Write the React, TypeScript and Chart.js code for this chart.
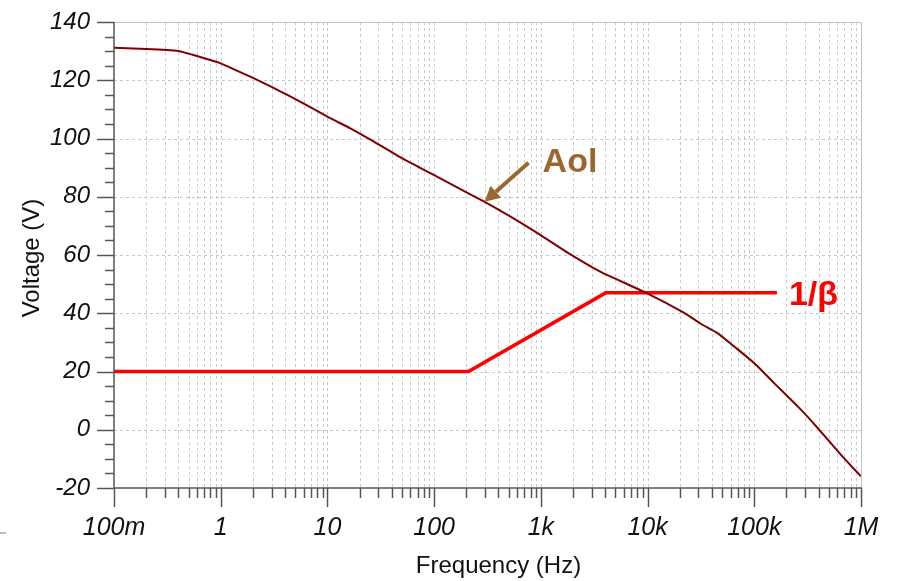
import React, { useEffect, useRef } from "react";
import { Chart, registerables } from "chart.js";

Chart.register(...registerables);

// ---- data ----
const aolFreq = [0.1, 0.175, 0.39, 0.641, 0.988, 1.317, 2.028, 2.71, 3.61, 4.81, 6.9, 10.6, 16.4, 25.3, 51.8, 92.3, 153, 292, 520, 860, 1781, 3633, 9200, 21840, 31530, 45230, 64760, 99720, 153700, 273500, 392500, 649300, 1000000];
const aolVal = [131.2, 130.8, 130.1, 128.0, 125.9, 123.8, 120.7, 118.5, 116.2, 113.9, 110.8, 107.0, 103.5, 99.6, 92.9, 88.1, 83.8, 78.4, 73.2, 68.3, 60.8, 54.2, 47.4, 40.2, 36.4, 33.2, 28.6, 22.9, 16.0, 6.9, 0.6, -8.6, -16.0];
const betaFreq = [0.1, 210, 4050, 163000];
const betaVal = [20, 20, 47, 47];

const xMin = 0.1;
const xMax = 1000000;
const yMin = -20;
const yMax = 140;
const yMajorStep = 20;
const yMinorStep = 5;
const xDecadeLabels: Record<string, string> = {
  "0.1": "100m", "1": "1", "10": "10", "100": "100", "1000": "1k", "10000": "10k", "100000": "100k", "1000000": "1M",
};
const xTitle = "Frequency (Hz)";
const yTitle = "Voltage (V)";
const aolLabel = "Aol";
const betaLabel = "1/β";
// annotation anchors in data units
const aolLabelPos = { x: 1038, y: 88.6 };
const aolArrowFrom = { x: 767, y: 91.7 };
const aolArrowTo = { x: 297, y: 78.3 };
const betaLabelPos = { x: 211000, y: 42.9 };

function logTicks(): number[] {
  const out: number[] = [];
  for (let e = -1; e <= 6; e++) {
    for (let m = 1; m <= 9; m++) {
      const v = parseFloat((m * Math.pow(10, e)).toPrecision(6));
      if (v >= xMin - 1e-9 && v <= xMax + 1e-9) out.push(v);
    }
  }
  return out;
}
function isDecade(v: number) {
  const l = Math.log10(v);
  return Math.abs(l - Math.round(l)) < 1e-6;
}

const FONT = "'Liberation Sans', Arial, sans-serif";

const decorPlugin = {
  id: "decor",
  beforeDatasetsDraw(chart: any) {
    const { ctx, chartArea: a, scales } = chart;
    const xs = scales.x, ys = scales.y;
    ctx.save();
    // grid
    ctx.strokeStyle = "#c9c9c9";
    ctx.lineWidth = 1;
    ctx.setLineDash([3, 3]);
    for (const v of logTicks()) {
      if (v <= xMin || v >= xMax) continue;
      const px = Math.round(xs.getPixelForValue(v)) + 0.5;
      ctx.beginPath();
      ctx.moveTo(px, a.top);
      ctx.lineTo(px, a.bottom);
      ctx.stroke();
    }
    for (let v = yMin + yMajorStep; v < yMax; v += yMajorStep) {
      const py = Math.round(ys.getPixelForValue(v)) + 0.5;
      ctx.beginPath();
      ctx.moveTo(a.left, py);
      ctx.lineTo(a.right, py);
      ctx.stroke();
    }
    ctx.setLineDash([]);
    // top & right frame
    ctx.strokeStyle = "#c4c4c4";
    ctx.beginPath();
    ctx.moveTo(a.left, a.top + 0.5);
    ctx.lineTo(a.right + 0.5, a.top + 0.5);
    ctx.lineTo(a.right + 0.5, a.bottom);
    ctx.stroke();
    ctx.restore();
  },
  afterDatasetsDraw(chart: any) {
    const { ctx, chartArea: a, scales } = chart;
    const xs = scales.x, ys = scales.y;
    ctx.save();
    // axes
    ctx.strokeStyle = "#555555";
    ctx.lineWidth = 1.5;
    ctx.beginPath();
    ctx.moveTo(a.left, a.top);
    ctx.lineTo(a.left, a.bottom);
    ctx.lineTo(a.right + 1, a.bottom);
    ctx.stroke();
    // y ticks
    for (let v = yMin; v <= yMax + 1e-9; v += yMinorStep) {
      const py = Math.round(ys.getPixelForValue(v)) + 0.5;
      const len = v % yMajorStep === 0 ? 17 : 9;
      ctx.beginPath();
      ctx.moveTo(a.left - len, py);
      ctx.lineTo(a.left, py);
      ctx.stroke();
    }
    // x ticks
    for (const v of logTicks()) {
      const px = Math.round(xs.getPixelForValue(v)) + 0.5;
      const len = isDecade(v) ? 19 : 10;
      ctx.beginPath();
      ctx.moveTo(px, a.bottom);
      ctx.lineTo(px, a.bottom + len);
      ctx.stroke();
    }
    // titles
    ctx.fillStyle = "#111111";
    ctx.font = `24px ${FONT}`;
    ctx.textAlign = "center";
    ctx.textBaseline = "alphabetic";
    ctx.fillText(xTitle, (a.left + a.right) / 2 + 11, 573);
    ctx.save();
    ctx.translate(39, (a.top + a.bottom) / 2 + 3);
    ctx.rotate(-Math.PI / 2);
    ctx.fillText(yTitle, 0, 0);
    ctx.restore();
    // Aol annotation
    const brown = "#9c6630";
    ctx.fillStyle = brown;
    ctx.font = `bold 34px ${FONT}`;
    ctx.textAlign = "left";
    ctx.fillText(aolLabel, xs.getPixelForValue(aolLabelPos.x), ys.getPixelForValue(aolLabelPos.y));
    const x1 = xs.getPixelForValue(aolArrowFrom.x), y1 = ys.getPixelForValue(aolArrowFrom.y);
    const x2 = xs.getPixelForValue(aolArrowTo.x), y2 = ys.getPixelForValue(aolArrowTo.y);
    const ang = Math.atan2(y2 - y1, x2 - x1);
    const headLen = 15, headW = 8;
    const bx = x2 - headLen * Math.cos(ang), by = y2 - headLen * Math.sin(ang);
    ctx.strokeStyle = brown;
    ctx.lineWidth = 4;
    ctx.beginPath();
    ctx.moveTo(x1, y1);
    ctx.lineTo(bx, by);
    ctx.stroke();
    ctx.beginPath();
    ctx.moveTo(x2, y2);
    ctx.lineTo(bx + headW * Math.sin(ang), by - headW * Math.cos(ang));
    ctx.lineTo(bx - headW * Math.sin(ang), by + headW * Math.cos(ang));
    ctx.closePath();
    ctx.fill();
    // 1/beta annotation
    ctx.fillStyle = "#ff0000";
    ctx.fillText(betaLabel, xs.getPixelForValue(betaLabelPos.x), ys.getPixelForValue(betaLabelPos.y));
    // small mark bottom-left
    ctx.strokeStyle = "#bbbbbb";
    ctx.lineWidth = 2;
    ctx.beginPath();
    ctx.moveTo(0, 533);
    ctx.lineTo(6, 533);
    ctx.stroke();
    ctx.restore();
  },
};

export default function App() {
  const ref = useRef<HTMLCanvasElement | null>(null);
  useEffect(() => {
    if (!ref.current) return;
    const chart = new Chart(ref.current, {
      type: "scatter",
      data: {
        datasets: [
          {
            label: "Aol",
            data: aolFreq.map((f, i) => ({ x: f, y: aolVal[i] })),
            showLine: true,
            borderColor: "#7f0000",
            borderWidth: 2,
            pointRadius: 0,
            tension: 0.15,
          },
          {
            label: "1/β",
            data: betaFreq.map((f, i) => ({ x: f, y: betaVal[i] })),
            showLine: true,
            borderColor: "#ff0000",
            borderWidth: 3.5,
            pointRadius: 0,
            tension: 0,
          },
        ],
      },
      options: {
        animation: false,
        responsive: false,
        maintainAspectRatio: false,
        layout: { padding: { top: 22, right: 45, left: 0, bottom: 0 } },
        plugins: { legend: { display: false }, tooltip: { enabled: false } },
        scales: {
          x: {
            type: "logarithmic",
            min: xMin,
            max: xMax,
            afterBuildTicks: (scale: any) => {
              scale.ticks = logTicks().map((v) => ({ value: v }));
            },
            afterFit: (scale: any) => {
              scale.height = 93;
              scale.paddingLeft = 0;
              scale.paddingRight = 0;
            },
            grid: { display: false, drawTicks: false, tickLength: 0 },
            border: { display: false },
            ticks: {
              autoSkip: false,
              maxRotation: 0,
              minRotation: 0,
              padding: 25,
              color: "#111111",
              font: { family: FONT, size: 25, style: "italic" },
              callback: (v: any) => {
                const key = String(parseFloat(Number(v).toPrecision(6)));
                return isDecade(Number(v)) ? xDecadeLabels[key] ?? "" : "";
              },
            },
          },
          y: {
            type: "linear",
            min: yMin,
            max: yMax,
            afterFit: (scale: any) => {
              scale.width = 114;
              scale.paddingTop = 0;
              scale.paddingBottom = 0;
            },
            grid: { display: false, drawTicks: false, tickLength: 0 },
            border: { display: false },
            ticks: {
              stepSize: yMinorStep,
              autoSkip: false,
              padding: 24,
              color: "#111111",
              font: { family: FONT, size: 24, style: "italic" },
              callback: (v: any) => (Number(v) % yMajorStep === 0 ? String(v) : ""),
            },
          },
        },
      },
      plugins: [decorPlugin],
    } as any);
    return () => chart.destroy();
  }, []);
  return (
    <div style={{ position: "absolute", left: 0, top: 0, width: 906, height: 581, background: "#ffffff" }}>
      <canvas ref={ref} width={906} height={581} style={{ display: "block" }} />
    </div>
  );
}
